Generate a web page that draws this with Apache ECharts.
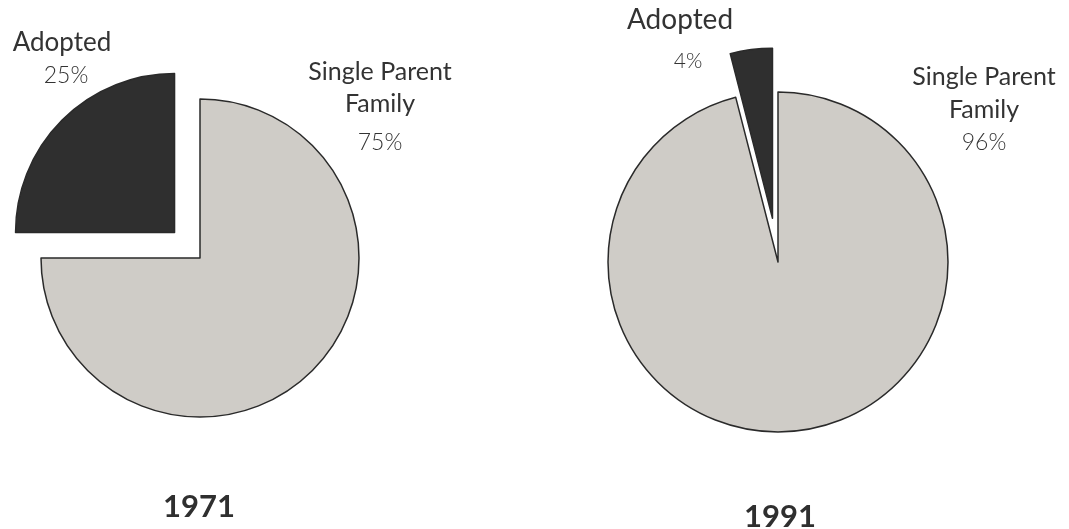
<!DOCTYPE html>
<html>
<head>
<meta charset="utf-8">
<script src="https://cdn.jsdelivr.net/npm/echarts@6/dist/echarts.min.js"></script>
<style>
html,body{margin:0;padding:0;background:#fff;}
#c{width:1069px;height:529px;}
</style>
</head>
<body>
<div id="c"></div>
<script>
// Data
var categories = ['Single Parent\nFamily', 'Adopted'];
var values1971 = [75, 25];
var values1991 = [96, 4];
var years = ['1971', '1991'];
var explodedCategory = 'Adopted';

var FONT = 'Lato, "Open Sans", sans-serif';
var COLORS = ['#cfccc7', '#2f2f2f'];

function buildData(values) {
  return categories.map(function (name, i) {
    return { name: name, value: values[i], selected: name === explodedCategory };
  });
}

function makeSeries(values, center, radius, offset) {
  return {
    type: 'pie',
    center: center,
    radius: radius,
    startAngle: 90,
    clockwise: true,
    selectedMode: 'multiple',
    selectedOffset: offset,
    color: COLORS,
    emphasis: { disabled: true },
    itemStyle: { borderColor: '#2a2a2a', borderWidth: 1.5 },
    select: { itemStyle: { borderColor: '#2a2a2a', borderWidth: 1.5 } },
    label: { show: false },
    labelLine: { show: false },
    data: buildData(values)
  };
}

// label layout (style, not data): [x, top, nameSize, nameLineHeight, pctSize, pctLineHeight, pctShiftX]
var labelStyle = [
  [
    [380, 56, 25, 32, 23, 46, 0],
    [62, 27, 26, 32, 23, 34, 8]
  ],
  [
    [984, 60, 25, 33, 23, 33, 0],
    [680, 4, 28, 32, 21, 50, 16]
  ]
];

function makeLabels(pieIdx, values) {
  var total = values.reduce(function (a, b) { return a + b; }, 0);
  return categories.map(function (name, i) {
    var st = labelStyle[pieIdx][i];
    var pct = Math.round(values[i] / total * 100);
    var lines = name.split('\n').map(function (s) { return '{n|' + s + '}'; });
    lines.push('{p|' + pct + '%}');
    return {
      type: 'text',
      x: st[0],
      y: st[1],
      silent: true,
      style: {
        text: lines.join('\n'),
        align: 'center',
        verticalAlign: 'top',
        rich: {
          n: { fontFamily: FONT, fontSize: st[2], lineHeight: st[3], fill: '#333', color: '#333', fontWeight: 400, align: 'center' },
          p: { fontFamily: FONT, fontSize: st[4], lineHeight: st[5], fill: '#333', color: '#333', fontWeight: 300, align: 'center', padding: [0, 0, 0, st[6]] }
        }
      }
    };
  });
}

var chart = echarts.init(document.getElementById('c'), null, { renderer: 'canvas' });
chart.setOption({
  animation: false,
  backgroundColor: '#ffffff',
  title: [
    { text: years[0], left: 194, top: 486, textAlign: 'center',
      textStyle: { fontFamily: FONT, fontSize: 31, fontWeight: 'bold', color: '#2f2f2f' } },
    { text: years[1], left: 775, top: 496, textAlign: 'center',
      textStyle: { fontFamily: FONT, fontSize: 31, fontWeight: 'bold', color: '#2f2f2f' } }
  ],
  series: [
    makeSeries(values1971, [200, 258], 159, 36),
    makeSeries(values1991, [778, 262], 170, 44)
  ],
  graphic: makeLabels(0, values1971).concat(makeLabels(1, values1991))
});
</script>
</body>
</html>
